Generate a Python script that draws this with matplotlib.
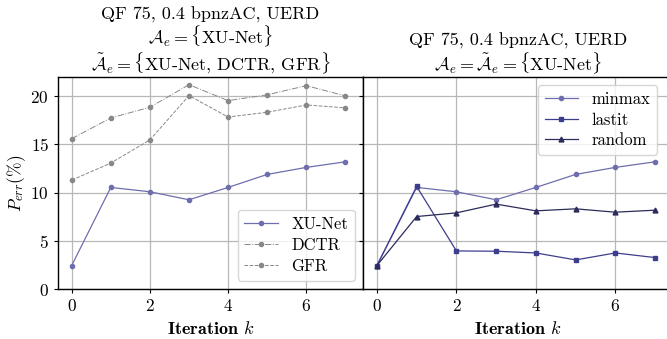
import numpy as np
import matplotlib.pyplot as plt

plt.rcParams['font.family'] = 'serif'
plt.rcParams['font.serif'] = ['cmr10']
plt.rcParams['mathtext.fontset'] = 'cm'
plt.rcParams['axes.formatter.use_mathtext'] = True
plt.rcParams['font.size'] = 12

iters = np.arange(8)

# left panel
xunet = [2.43, 10.54, 10.09, 9.26, 10.54, 11.89, 12.62, 13.2]
dctr = [15.6, 17.75, 18.86, 21.2, 19.55, 20.15, 21.1, 20.04]
gfr = [11.3, 13.07, 15.47, 20.07, 17.85, 18.34, 19.1, 18.8]

# right panel
minmax = [2.43, 10.54, 10.09, 9.26, 10.54, 11.89, 12.62, 13.2]
lastit = [2.43, 10.64, 3.95, 3.92, 3.74, 3.02, 3.74, 3.26]
random_sel = [2.43, 7.52, 7.9, 8.81, 8.11, 8.32, 7.97, 8.18]

c_light = '#6e6eae'
c_mid = '#3d3d8e'
c_dark = '#2b2b5c'
c_grey = '#888888'

fig = plt.figure(figsize=(6.67, 3.39), dpi=100)
ax1 = fig.add_axes([58/667, 50/339, 305/667, 212/339])
ax2 = fig.add_axes([363/667, 50/339, 310/667, 212/339], sharey=ax1)

ax1.plot(iters, xunet, color=c_light, lw=0.9, marker='o', ms=3, label='XU-Net')
ax1.plot(iters, dctr, color=c_grey, lw=0.7, ls='-.', marker='o', ms=3, label='DCTR')
ax1.plot(iters, gfr, color=c_grey, lw=0.7, ls='--', marker='o', ms=3, label='GFR')

ax2.plot(iters, minmax, color=c_light, lw=0.9, marker='o', ms=3, label='minmax')
ax2.plot(iters, lastit, color=c_mid, lw=0.9, marker='s', ms=3.5, label='lastit')
ax2.plot(iters, random_sel, color=c_dark, lw=0.9, marker='^', ms=3.5, label='random')

for ax in (ax1, ax2):
    ax.grid(True, color='#b8b8b8', lw=0.9)
    ax.set_axisbelow(True)
    ax.set_xlim(-0.35, 7.45)
    ax.set_xticks([0, 2, 4, 6])
    ax.set_xlabel(r'Iteration $k$', fontfamily='cmb10', fontsize=13)
    ax.tick_params(length=3, width=0.8, labelsize=12.5)
    for s in ax.spines.values():
        s.set_linewidth(1.0)

ax1.set_ylim(0, 22)
ax1.set_yticks([0, 5, 10, 15, 20])
ax1.set_ylabel(r'$P_{err}(\%)$', fontsize=12.5, labelpad=2)
plt.setp(ax2.get_yticklabels(), visible=False)

ax1.set_title('QF 75, 0.4 bpnzAC, UERD\n' + r'$\mathcal{A}_e = \{$XU-Net$\}$' + '\n'
              + r'$\tilde{\mathcal{A}}_e = \{$XU-Net, DCTR, GFR$\}$', fontsize=13, linespacing=1.05, pad=5)
ax2.set_title('QF 75, 0.4 bpnzAC, UERD\n' + r'$\mathcal{A}_e = \tilde{\mathcal{A}}_e = \{$XU-Net$\}$',
              fontsize=13, linespacing=1.05, pad=5)

ax1.legend(loc='lower right', fontsize=12, framealpha=0.8, edgecolor='#cccccc',
           handlelength=2.0, labelspacing=0.35)
ax2.legend(loc='upper right', bbox_to_anchor=(0.975, 1.0), fontsize=12, framealpha=0.8,
           edgecolor='#cccccc', handlelength=2.0, labelspacing=0.3)

fig.savefig('out.png', dpi=100)
